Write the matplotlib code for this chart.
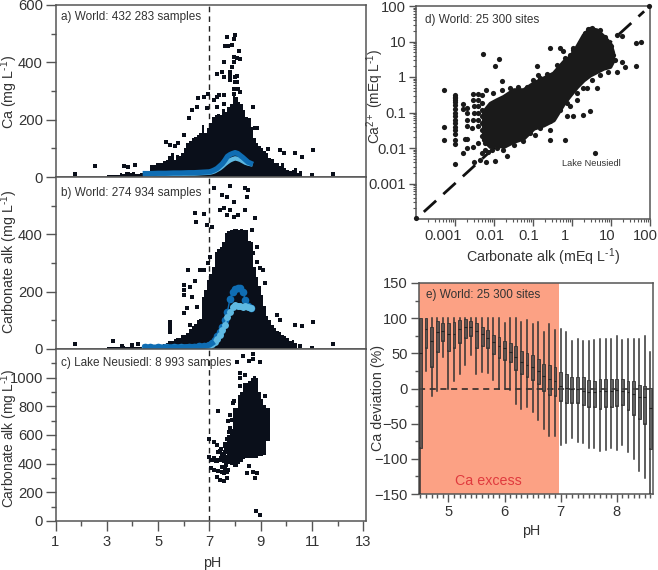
import numpy as np
import matplotlib
matplotlib.use("Agg")
import matplotlib.pyplot as plt
from matplotlib.ticker import FixedLocator, NullFormatter
from matplotlib.transforms import ScaledTranslation

plt.rcParams['font.family'] = ['Liberation Sans', 'DejaVu Sans']
plt.rcParams['mathtext.fontset'] = 'custom'
plt.rcParams['mathtext.rm'] = 'Liberation Sans'
plt.rcParams['mathtext.default'] = 'regular'

# ---------- panel a
a_env_ph = [3.0,3.5,3.6,3.7,3.9,4.0,4.1,4.3,4.4,4.5,4.7,4.9,5.2,5.3,5.4,5.5,5.6,5.7,5.8,5.9,6.0,6.1,6.2,6.3,6.4,6.5,6.6,6.7,6.8,6.9,7.0,7.1,7.2,7.3,7.4,7.5,7.6,7.7,7.8,7.9,8.0,8.1,8.2,8.3,8.4,8.5,8.6,8.7,8.8,8.9,9.0,9.1,9.2,9.3,9.4,9.5,9.7,9.8,9.9,10.0,10.1,10.2,10.3,10.4,10.5,10.6]
a_env_top = [8,14,12,16,14,18,12,14,16,20,42,48,55,60,75,84,60,78,75,85,100,118,124,135,140,147,153,180,153,170,187,210,216,220,216,238,228,245,256,290,280,262,256,233,210,205,176,135,118,107,100,90,84,66,63,50,38,50,32,26,20,24,32,15,20,20]
a_out_ph = [1.77,2.55,3.65,3.84,4.08,5.31,5.47,5.66,5.79,5.99,6.21,6.31,6.5,6.57,6.77,6.96,7.29,7.39,7.55,6.9,7.16,7.29,7.55,8.71,8.78,8.84,9.3,9.75,9.91,10.34,10.6,11.05,10.99,11.8,
            7.68,8.0,7.94,7.61,7.74,7.87,8.17,7.94,8.06,8.19,7.58,7.94,7.87,7.81,7.48,7.29,7.55,7.81,7.81,8.09,8.0,8.0,8.09,7.96,8.13,8.19,7.94]
a_out_ca = [9,38,38,35,42,122,110,107,120,147,205,235,243,277,280,290,280,285,285,240,268,245,255,243,170,172,96,93,82,82,70,93,6,9,
            487,496,481,457,457,460,438,418,415,412,400,400,383,366,368,360,350,354,337,351,349,331,331,308,308,297,291]
blue_ph = [4.5,4.7,5.0,5.3,5.6,5.9,6.2,6.4,6.6,6.8,7.0,7.1,7.2,7.3,7.4,7.5,7.6,7.7,7.8,7.9,8.0,8.1,8.2,8.3,8.4,8.5,8.6]
a_mean = [12,12,13,13,14,14,15,15,16,17,18,21,25,30,38,46,58,72,78,82,85,82,75,68,60,52,48]
a_median = [9,9,10,10,11,11,12,12,13,14,15,17,20,25,30,37,45,52,58,62,65,63,60,55,50,47,45]

# ---------- panel b
b_env_ph = [3.0,3.5,3.6,3.7,4.5,5.0,5.1,5.2,5.3,5.4,5.5,5.6,5.7,5.8,5.9,6.0,6.1,6.2,6.3,6.4,6.5,6.6,6.7,6.8,6.9,7.0,7.1,7.2,7.3,7.4,7.5,7.6,7.7,7.8,7.9,8.0,8.1,8.2,8.3,8.4,8.5,8.6,8.7,8.8,8.9,9.0,9.1,9.2,9.3,9.4,9.5,9.6,9.7,9.8,9.9,10.0,10.1,10.2,10.3,10.4]
b_env_top = [6,6,10,8,12,14,14,16,20,28,28,34,40,38,48,50,56,70,80,88,100,105,180,205,240,260,285,340,350,355,372,405,412,415,418,418,415,420,415,415,378,375,285,250,220,190,150,115,100,85,75,62,60,50,45,38,28,30,22,22]
b_out_ph = [1.77,3.26,3.58,3.97,4.23,5.47,5.47,5.47,5.47,5.99,5.99,6.25,6.44,6.16,6.44,6.77,6.47,6.9,7.09,6.64,6.77,6.96,7.03,7.16,7.81,8.39,8.52,8.45,7.48,7.68,7.94,7.42,7.55,7.81,7.68,7.94,8.13,8.39,8.78,8.84,8.65,8.71,8.84,8.97,9.1,9.17,9.62,9.75,10.34,10.6,11.05,10.51,10.99,11.81,5.99,6.31,5.99,6.25,6.12,6.51]
b_out_alk = [17,29,12,14,17,95,84,72,60,224,206,217,237,274,473,470,444,433,427,276,276,299,322,562,569,560,555,531,537,531,514,485,491,485,467,462,467,485,456,357,415,334,305,281,276,229,119,101,84,80,93,10,5,17,188,183,124,84,142,148]
b_mean = [6,6,6,7,7,7,8,8,9,10,14,20,33,45,58,78,100,130,175,198,208,212,212,198,172,150,142]
b_median = [5,5,5,6,6,6,7,7,8,8,11,16,25,35,48,65,85,110,130,148,152,150,150,148,150,145,142]

# ---------- panel c
c_env_ph = [7.7,7.8,7.9,8.1,8.2,8.3,8.4,8.5,8.6,8.7,8.8,8.9,9.0,9.1,9.2,9.35]
c_env_top = [600,640,790,880,900,965,960,975,1000,1010,1000,900,850,810,790,700]
c_env_bot = [400,390,380,400,410,430,440,440,440,440,440,450,450,460,560,560]
c_out_ph = [7.35,7.0,7.16,7.29,7.0,7.16,7.29,7.48,7.68,7.05,7.16,7.35,7.48,7.74,7.29,7.42,7.55,7.68,7.55,7.42,7.61,7.81,7.87,7.74,7.68,7.55,8.09,8.29,8.56,8.71,8.71,8.97,8.19,8.19,8.39,9.17,8.19,8.48,8.71,8.87,8.78,8.56,8.81,8.97,7.81,7.87,7.1,7.2,7.35,7.4,7.55,7.6,7.65,7.35,7.45,7.6,7.7,7.5,7.6,7.7,7.7,7.65,7.6,7.55,7.5,7.45,7.7,7.65,7.25,7.3,7.05,7.1,7.75,7.8,7.85,7.9,7.95]
c_out_alk = [765,573,550,527,450,438,427,427,427,368,357,350,345,357,310,287,280,298,333,485,520,741,706,695,497,462,1107,1149,1114,1166,1133,1107,1033,998,1021,874,939,333,345,333,303,385,70,44,462,427,425,425,425,425,470,445,410,480,500,540,530,380,360,340,570,510,480,420,460,440,450,390,420,420,425,425,620,650,560,820,840]

# ---------- panel d (log10 values)
d_env_logx = [-2.27,-2.10,-1.93,-1.76,-1.50,-1.25,-0.99,-0.735,-0.48,-0.22,-0.05,0.12,0.29,0.46,0.63,0.80,0.97,1.04]
d_env_up = [-0.97,-0.74,-0.64,-0.55,-0.36,-0.36,-0.17,-0.03,0.11,0.435,0.575,0.857,1.185,1.37,1.325,1.15,0.95,0.70]
d_env_lo = [-1.77,-1.955,-1.91,-1.955,-1.81,-1.72,-1.44,-1.35,-1.205,-0.74,-0.5,-0.27,-0.08,0.06,0.154,0.25,0.30,0.45]
d_out_logx = [-3.28,-3.28,-3.28,-2.27,-1.97,-1.87,-1.79,-2.8,-2.8,-2.68,-2.68,-2.68,-2.53,-2.53,-2.4,-2.32,-2.2,-2.51,-2.51,-2.53,-2.7,-2.57,-2.68,-2.74,-2.8,-2.68,-2.53,-2.4,-2.32,-2.51,-2.36,-2.2,-1.97,-1.66,-0.56,-0.31,-0.22,0.03,-0.05,-0.91,-0.86,-0.56,-0.18,-0.14,0.03,0.29,0.46,0.59,1.64,1.76,1.63,1.36,1.15,1.27,1.15,1.27,0.63,0.38,0.12,-0.05,-0.56,-0.95,-4,1.98,
              -2.4,-2.4,-2.4,-2.4,-2.4,-2.32,-2.32,-2.32,-2.32,-2.32,-2.32,-2.23,-2.23,-2.15,-2.06,
              -2.02,-1.8,-1.59,-1.38,-1.16,-0.99,-0.82,-0.65,-0.39,-0.18,0.03,0.2,0.33,0.42,0.5,0.72,0.85,0.99,1.04,1.1,
              -1.93,-1.76,-1.5,-1.25,-1.08,-0.82,-0.56,-0.31,-0.14,0.12,0.29,0.5,0.72,0.93]
d_out_logy = [-0.38,-1.41,-1.77,0.65,0.32,0.5,-0.11,-0.76,-0.9,-0.88,-1.02,-1.2,-0.47,-0.64,-0.48,-0.52,-0.36,-0.83,-1.02,-1.2,-1.39,-1.44,-1.75,-1.75,-2.14,-2.0,-1.96,-1.86,-2.14,-2.4,-2.33,-2.4,-2.38,-2.22,0.81,0.81,0.72,0.81,0.62,0.31,0.06,-1.77,-1.77,-1.11,-1.11,-1.06,-0.97,-2.14,0.95,0.98,0.32,0.27,0.15,0.43,1.18,1.16,-0.31,-0.31,-0.64,-0.83,-1.49,-1.63,-3.97,2.0,
              -0.64,-0.83,-1.02,-1.2,-1.39,-0.74,-0.92,-1.11,-1.3,-1.49,-1.67,-1.86,-2.05,-2.1,-2.05,
              -0.45,-0.36,-0.31,-0.29,-0.29,-0.08,-0.03,0.09,0.34,0.53,0.76,0.95,1.23,1.34,1.39,1.33,1.14,0.86,0.62,0.48,
              -2.0,-2.05,-1.91,-1.81,-1.58,-1.44,-1.25,-0.92,-0.74,-0.46,-0.31,-0.08,0.06,0.15]
d_col_logy = [-0.5,-0.55,-0.6,-0.65,-0.7,-0.8,-0.9,-1.0,-1.1,-1.2,-1.3,-1.4,-1.5,-1.6,-1.77,-1.9,-2.45]
d_line_log = [-3.8,1.85]
d_tick_labels = ['0.001', '0.01', '0.1', '1', '10', '100']

# ---------- panel e
e_ph = [4.5,4.6,4.7,4.8,4.9,5.0,5.1,5.2,5.3,5.4,5.5,5.6,5.7,5.8,5.9,6.0,6.1,6.2,6.3,6.4,6.5,6.6,6.7,6.8,6.9,7.0,7.1,7.2,7.3,7.4,7.5,7.6,7.7,7.8,7.9,8.0,8.1,8.2,8.3,8.4,8.5,8.6]
e_wlo = [-150,25,-10,-3,45,0,10,20,33,48,21,23,22,12,-1,0,-2,-22,-29,-27,-33,-45,-57,-68,-68,-80,-78,-70,-76,-77,-84,-85,-89,-88,-85,-87,-80,-90,-100,-118,-127,-150]
e_q1 = [-85,58,30,52,68,54,58,65,72,75,58,60,58,49,43,41,38,26,20,17,12,7,-3,-9,-10,-18,-20,-20,-21,-23,-27,-27,-29,-27,-26,-25,-24,-31,-37,-44,-50,-86]
e_med = [50,85,68,80,82,78,78,85,88,87,82,77,72,66,60,58,52,45,38,33,30,25,18,13,11,3,1,-1,-1,-3,-5,-5,-4,-3,-3,-2,-3,-5,-8,-12,-12,-28]
e_q3 = [100,100,88,96,93,93,94,98,99,96,93,87,83,76,73,68,65,61,54,50,47,42,35,33,30,23,21,17,17,16,12,11,13,14,13,14,13,10,10,5,3,1]
e_whi = [100,100,100,100,100,100,100,100,100,100,100,100,100,100,100,93,100,100,95,97,91,94,81,92,83,85,80,68,71,68,68,69,70,70,71,74,69,70,70,70,74,52]

W, H = 658, 570
fig = plt.figure(figsize=(W/100, H/100), dpi=100)
def axpx(l, t, r, b):
    return fig.add_axes([l/W, 1-b/H, (r-l)/W, (b-t)/H])

TXT = '#333333'; FR = '#555555'; DOT = '#0a0f1a'
BLUE = '#0f6db3'; LIGHT = '#5fb9e2'
TICK = 10.6; AXL = 10.3; LAB = 8.5
MINUS1 = r'$^{\text{-1}}$'

axa = axpx(55.5, 5, 366, 177)
axb = axpx(55.5, 177, 366, 349)
axc = axpx(55.5, 349, 366, 521)

def frame(ax):
    for s in ax.spines.values():
        s.set_color(FR); s.set_linewidth(1.1)

for ax in (axa, axb, axc):
    ax.set_xlim(1, 13.1)
    frame(ax)
    ax.axvline(7, color='#222222', lw=1, ls=(0, (4, 3)), zorder=1)
    ax.tick_params(axis='y', which='major', length=7, width=1, labelcolor=TXT, labelsize=TICK, pad=2, color=FR)
    ax.tick_params(axis='y', which='minor', length=3.5, width=1, color=FR)
    ax.tick_params(axis='x', which='both', bottom=False, labelbottom=False)

axa.set_ylim(0, 600)
axa.yaxis.set_major_locator(FixedLocator([0, 200, 400, 600]))
axa.yaxis.set_minor_locator(FixedLocator([100, 300, 500]))
axb.set_ylim(0, 600)
axb.yaxis.set_major_locator(FixedLocator([0, 200, 400]))
axb.yaxis.set_minor_locator(FixedLocator([100, 300, 500]))
axc.set_ylim(0, 1200)
axc.yaxis.set_major_locator(FixedLocator([0, 200, 400, 600, 800, 1000]))
axc.yaxis.set_minor_locator(FixedLocator([100, 300, 500, 700, 900, 1100]))

axa.fill_between(a_env_ph, 0, a_env_top, step='post', color=DOT, lw=0, zorder=2)
axa.scatter(a_out_ph, a_out_ca, s=5, marker='s', color=DOT, lw=0, zorder=2)
axa.plot(blue_ph, a_median, color=LIGHT, lw=3.2, zorder=3)
axa.plot(blue_ph, a_mean, color=BLUE, lw=3.8, zorder=4)

axb.fill_between(b_env_ph, 0, b_env_top, step='post', color=DOT, lw=0, zorder=2)
axb.scatter(b_out_ph, b_out_alk, s=5, marker='s', color=DOT, lw=0, zorder=2)
axb.plot(blue_ph, b_mean, color=BLUE, lw=1, marker='o', ms=5.5, mew=0, zorder=3)
axb.plot(blue_ph, b_median, color=LIGHT, lw=1, marker='o', ms=5, mew=0, zorder=4)
axb.plot(blue_ph[:12], b_mean[:12], color=BLUE, lw=4, zorder=5)

axc.fill_between(c_env_ph, c_env_bot, c_env_top, step='post', color=DOT, lw=0, zorder=2)
axc.scatter(c_out_ph, c_out_alk, s=5, marker='s', color=DOT, lw=0, zorder=2)

axc.tick_params(axis='x', which='both', bottom=True, labelbottom=True)
axc.xaxis.set_major_locator(FixedLocator([1, 3, 5, 7, 9, 11, 13]))
axc.xaxis.set_minor_locator(FixedLocator([2, 4, 6, 8, 10, 12]))
axc.tick_params(axis='x', which='major', length=7, width=1, color=FR, labelcolor=TXT, labelsize=TICK, pad=3)
axc.tick_params(axis='x', which='minor', length=3.5, width=1, color=FR)

def note(xp, yp, s, size=LAB, color=TXT, ha='left'):
    fig.text(xp/W, 1-yp/H, s, fontsize=size, color=color, va='center', ha=ha, zorder=10)
note(61, 17, 'a) World: 432 283 samples')
note(61, 193, 'b) World: 274 934 samples')
note(61, 363, 'c) Lake Neusiedl: 8 993 samples')
note(425, 20, 'd) World: 25 300 sites')
note(426, 295, 'e) World: 25 300 sites')
note(562, 163.5, 'Lake Neusiedl', size=6.7)

def ylab(x, y, s, size=AXL):
    fig.text(x/W, 1-y/H, s, rotation=90, ha='center', va='center', fontsize=size, color=TXT)
ylab(9.5, 92, 'Ca (mg L' + MINUS1 + ')')
ylab(9.6, 262, 'Carbonate alk (mg L' + MINUS1 + ')')
ylab(9.6, 438, 'Carbonate alk (mg L' + MINUS1 + ')', size=9.9)
note(212, 563, 'pH', size=AXL, ha='center')

# ---- d
axd = axpx(416, 6, 650, 219)
frame(axd)
axd.set_xscale('log'); axd.set_yscale('log')
axd.set_xlim(1e-4, 100); axd.set_ylim(1e-4, 100)
line = 10.0**np.array(d_line_log)
axd.plot(line, line, color='#111111', lw=2, ls=(0, (6, 3.5)), zorder=1)
axd.fill_between(10.0**np.array(d_env_logx), 10.0**np.array(d_env_lo), 10.0**np.array(d_env_up), color='#1a1a1a', lw=3, zorder=2)
axd.scatter(10.0**np.array(d_out_logx), 10.0**np.array(d_out_logy), s=14, color='#1a1a1a', lw=0, zorder=3, clip_on=False)
axd.scatter([1e-3]*len(d_col_logy), 10.0**np.array(d_col_logy), s=14, color='#1a1a1a', lw=0, zorder=3)
maj = [1e-3, 1e-2, 1e-1, 1, 10, 100]
mnr = [m*10.0**e for e in range(-4, 2) for m in range(2, 10)]
for axis in (axd.xaxis, axd.yaxis):
    axis.set_major_locator(FixedLocator(maj))
    axis.set_minor_locator(FixedLocator(mnr))
    axis.set_minor_formatter(NullFormatter())
axd.set_xticklabels(d_tick_labels); axd.set_yticklabels(d_tick_labels)
axd.tick_params(axis='both', which='major', length=5, width=1, color=FR, labelcolor=TXT, labelsize=TICK, pad=2)
axd.tick_params(axis='both', which='minor', length=2.5, width=0.8, color=FR)
for lab, dx in zip(axd.get_xticklabels(), [-12.3, -4.3, -4.7, -6.7, -4, -4.3]):
    lab.set_transform(lab.get_transform() + ScaledTranslation(dx/100, 0, fig.dpi_scale_trans))
note(543, 257, 'Carbonate alk (mEq L' + MINUS1 + ')', size=AXL, ha='center')
ylab(375, 96, 'Ca$^{2+}$ (mEq L' + MINUS1 + ')', size=9.8)

# ---- e
axe = axpx(418.7, 283, 652.7, 494)
frame(axe)
axe.set_xlim(4.47, 8.64); axe.set_ylim(-150, 150)
axe.axvspan(4.47, 6.97, color='#fca184', lw=0, zorder=0)
stats = [dict(whislo=a, q1=b, med=c, q3=d, whishi=e, fliers=[]) for a, b, c, d, e in zip(e_wlo, e_q1, e_med, e_q3, e_whi)]
axe.bxp(stats, positions=e_ph, widths=0.05, patch_artist=True, manage_ticks=False, showcaps=False, showfliers=False,
        boxprops=dict(facecolor=(0.27, 0.27, 0.27, 0.85), edgecolor='#333333', lw=0.6),
        whiskerprops=dict(color='#333333', lw=1.1),
        medianprops=dict(color='#222222', lw=0.8), zorder=3)
axe.axhline(0, color='#222222', lw=1.1, ls=(0, (4, 3)), zorder=2)
axe.xaxis.set_major_locator(FixedLocator([5, 6, 7, 8]))
axe.xaxis.set_minor_locator(FixedLocator(e_ph))
axe.xaxis.set_minor_formatter(NullFormatter())
axe.set_xticklabels(['5', '6', '7', '8'])
axe.yaxis.set_major_locator(FixedLocator(list(range(-150, 151, 50))))
axe.yaxis.set_minor_locator(FixedLocator(list(range(-125, 150, 50))))
axe.tick_params(axis='both', which='major', length=6, width=1, color=FR, labelcolor=TXT, labelsize=TICK, pad=2)
axe.tick_params(axis='both', which='minor', length=3, width=1, color=FR)
note(531, 531, 'pH', size=AXL, ha='center')
fig.text(488/W, 1-481/H, 'Ca excess', color='#e03a3e', fontsize=10.3, ha='center', va='center')
ylab(378, 398, 'Ca deviation (%)')

fig.savefig('out.png', dpi=100)
